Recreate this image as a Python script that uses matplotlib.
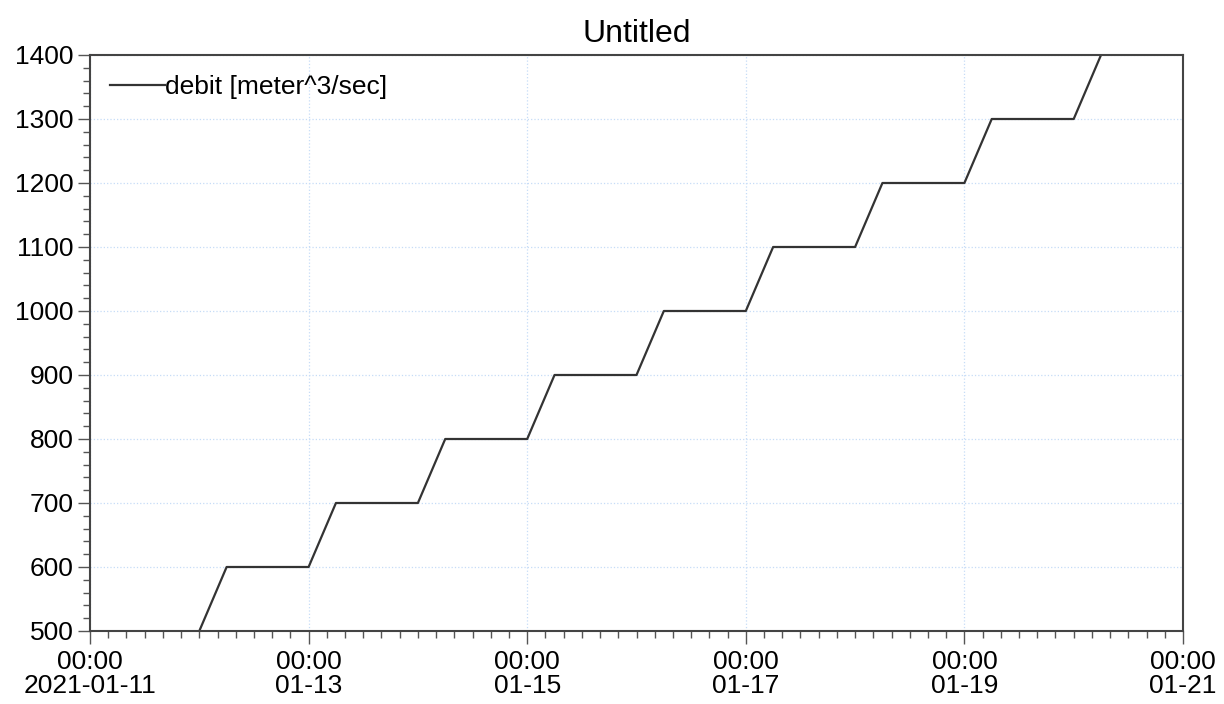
import matplotlib
matplotlib.use('Agg')
import matplotlib.pyplot as plt
import matplotlib.dates as mdates
from matplotlib.ticker import MultipleLocator, FuncFormatter
import numpy as np
import datetime as dt

# data: debit steps
times = ['2021-01-12 00:00', '2021-01-12 06:00',
         '2021-01-13 00:00', '2021-01-13 06:00',
         '2021-01-14 00:00', '2021-01-14 06:00',
         '2021-01-15 00:00', '2021-01-15 06:00',
         '2021-01-16 00:00', '2021-01-16 06:00',
         '2021-01-17 00:00', '2021-01-17 06:00',
         '2021-01-18 00:00', '2021-01-18 06:00',
         '2021-01-19 00:00', '2021-01-19 06:00',
         '2021-01-20 00:00', '2021-01-20 06:00']
debit = [500, 600, 600, 700, 700, 800, 800, 900, 900, 1000,
         1000, 1100, 1100, 1200, 1200, 1300, 1300, 1400]
x_start = dt.datetime(2021, 1, 11)
x_end = dt.datetime(2021, 1, 21)
y_range = (500, 1400)

plt.rcParams['font.family'] = ['Liberation Sans', 'DejaVu Sans']

t = [dt.datetime.strptime(s, '%Y-%m-%d %H:%M') for s in times]

fig = plt.figure(figsize=(12.24, 7.04), dpi=100)
ax = fig.add_axes([90 / 1224, 1 - 631 / 704, (1183 - 90) / 1224, (631 - 55) / 704])

ax.plot(t, debit, color='#333333', lw=1.6, label='debit [meter^3/sec]')

ax.set_xlim(x_start, x_end)
ax.set_ylim(*y_range)
ax.set_title('Untitled', fontsize=23, pad=9)

# ticks
ax.xaxis.set_major_locator(mdates.DayLocator(interval=2))
ax.xaxis.set_minor_locator(mdates.HourLocator(byhour=range(0, 24, 4)))


def fmt_date(v, pos):
    d = mdates.num2date(v)
    if pos == 0:
        return d.strftime('%H:%M\n%Y-%m-%d')
    return d.strftime('%H:%M\n%m-%d')


ax.xaxis.set_major_formatter(FuncFormatter(fmt_date))
ax.yaxis.set_major_locator(MultipleLocator(100))
ax.yaxis.set_minor_locator(MultipleLocator(20))

ax.tick_params(axis='both', which='major', labelsize=19, length=9, width=1.0,
               color='#555555', pad=3)
ax.tick_params(axis='both', which='minor', length=5, width=1.0, color='#555555')
ax.tick_params(axis='x', which='major', pad=5)
for lab in ax.get_xticklabels():
    lab.set_linespacing(1.0)

for s in ax.spines.values():
    s.set_color('#444444')
    s.set_linewidth(1.5)

ax.grid(True, which='major', color='#c6dcf7', lw=0.9, ls=':')
ax.set_axisbelow(True)

ax.legend(loc='upper left', frameon=False, fontsize=19, handlelength=2.1,
          handletextpad=0.0, borderaxespad=0.3, borderpad=0.45)

fig.savefig('out.png', dpi=100)
